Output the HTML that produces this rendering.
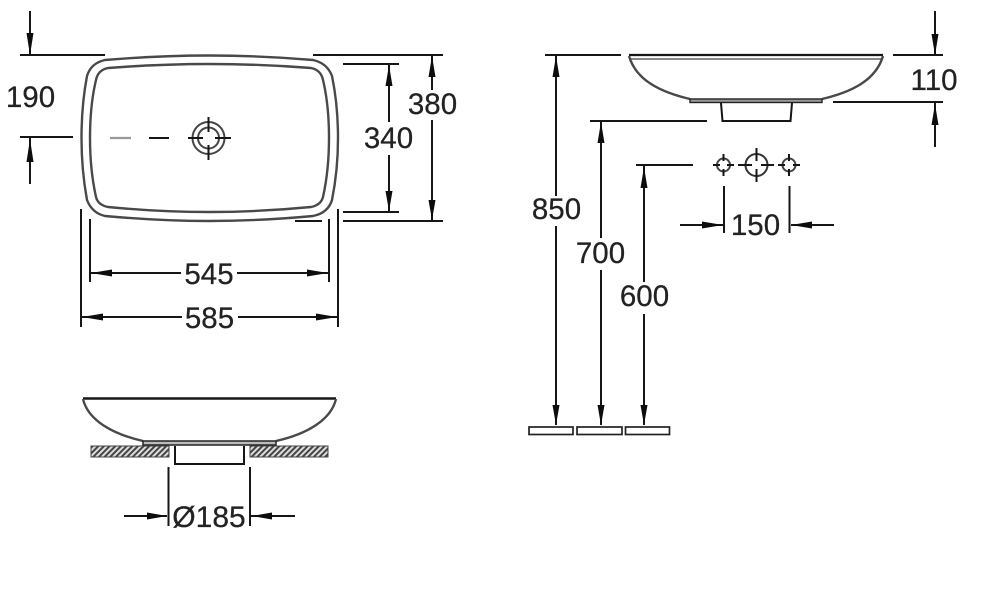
<!DOCTYPE html>
<html><head><meta charset="utf-8"><style>
html,body{margin:0;padding:0;background:#fff;width:1000px;height:596px;overflow:hidden}
svg{display:block}
text{font-family:"Liberation Sans",sans-serif;font-size:29.500px;fill:#222;stroke:#222;stroke-width:0.250px;text-anchor:middle}
.l{stroke:#141414;stroke-width:2;fill:none}
.b{stroke:#4a4a4a;stroke-width:2.400;fill:none}
.a{fill:#111;stroke:none}
</style></head><body>
<svg width="1000" height="596" viewBox="0 0 1000 596" xmlns="http://www.w3.org/2000/svg">
<defs>
<pattern id="h" width="4" height="4" patternUnits="userSpaceOnUse" patternTransform="rotate(45)"><rect width="4" height="4" fill="#ddd"/><rect width="2" height="4" fill="#444"/></pattern>
<filter id="f" x="0" y="0" width="100%" height="100%"><feGaussianBlur stdDeviation="0.350"/></filter>
</defs>
<g filter="url(#f)">
<!-- plan view -->
<path class="b" d="M105,60 Q160,55.500 209,55.500 Q260,55.500 313,60 Q327,63 332,76 Q338,105 338,138 Q338,170 332,200 Q328,213 313,216 Q260,221 209,221 Q160,221 105,216 Q92,213 87,200 Q81.500,170 81.500,138 Q81.500,105 87,76 Q91,63 105,60 Z"/>
<path class="b" d="M108,68 Q160,64 209,64 Q260,64 311,68 Q321,70 323,80 Q329,105 329,138 Q329,170 323,197 Q321,205 311,207 Q260,212 209,212 Q160,212 108,207 Q98,205 96,197 Q90,170 90,138 Q90,105 96,80 Q98,70 108,68 Z"/>
<path d="M110,138H131" stroke="#999" stroke-width="2.200"/>
<path class="l" d="M149,138H169"/>
<circle cx="208.500" cy="138" r="16" fill="none" stroke="#444" stroke-width="2"/>
<circle cx="208.500" cy="138" r="10.500" fill="none" stroke="#444" stroke-width="2"/>
<path class="l" d="M188,138H203M215,138H231M208.500,117V132M208.500,145V160"/>

<!-- 190 -->
<path class="l" d="M30,11V55M20,55H105M20,137H73M30,138V184"/>
<path class="a" d="M26.500,33H33.500L30,55ZM26.500,162H33.500L30,139Z"/>
<text x="30.500" y="107">190</text>

<!-- 340 / 380 -->
<path class="l" d="M313,55H443M343,64H399M343,212H399M295,221H322M343,221H443"/>
<path class="l" d="M389,65V122M389,155V212M432,56V90M432,120V221"/>
<path class="a" d="M389,65L392.500,86H385.500ZM389,211L392.500,191H385.500ZM432,56L435.500,77H428.500ZM432,220L435.500,200H428.500Z"/>
<text x="388.500" y="148">340</text>
<text x="432.500" y="114">380</text>

<!-- 545 / 585 -->
<path class="l" d="M81,209V327M90,219V282M329,219V282M338,209V327"/>
<path class="l" d="M90,273H181M237,273H329M81,317H182M238,317H338"/>
<path class="a" d="M91,273L112,269.500V276.500ZM328,273L307,269.500V276.500ZM82,317L103,313.500V320.500ZM337,317L316,313.500V320.500Z"/>
<text x="209" y="284">545</text>
<text x="209.500" y="328">585</text>

<!-- front view -->
<path d="M83,398.500H336" stroke="#141414" stroke-width="2.400"/>
<path class="b" d="M83,399C88,420 112,434 143,441M336,399C331,420 307,434 276,441" stroke-width="1.800"/>
<rect x="143" y="441" width="133" height="4" fill="#bbb" stroke="#222" stroke-width="1.500"/>
<rect x="91" y="446" width="78" height="11" fill="url(#h)" stroke="#444" stroke-width="1"/>
<rect x="250" y="446" width="78" height="11" fill="url(#h)" stroke="#444" stroke-width="1"/>
<path class="l" d="M175,446V464H244V446"/>
<path class="l" d="M168.500,467V526M250,467V526M124,516H167M251,516H295"/>
<path class="a" d="M167,516L147,512.500V519.500ZM252,516L272,512.500V519.500Z"/>
<text x="209" y="527" style="font-size:30px">Ø185</text>

<!-- side view -->
<path d="M629,55H883" stroke="#141414" stroke-width="2.200"/>
<path d="M631,59H881" stroke="#777" stroke-width="1.800"/>
<path class="b" d="M629,56C636,80 660,92 690,99M883,56C876,80 852,92 822,99" stroke-width="1.800"/>
<rect x="690" y="99" width="132" height="3.500" fill="#999" stroke="#222" stroke-width="1.400"/>
<path class="l" d="M721,103L722.500,121H790.500L792,103"/>

<!-- heights -->
<path class="l" d="M545,55H621M590,121H707M636,165H693"/>
<path class="l" d="M556,56V196M556,226V425M601,122V238M601,270V425M644,166V282M644,314V425"/>
<path class="a" d="M556,56L559.500,77H552.500ZM601,122L604.500,143H597.500ZM644,167L647.500,188H640.500ZM556,425L559.500,405H552.500ZM601,425L604.500,405H597.500ZM644,425L647.500,405H640.500Z"/>
<text x="556.500" y="219">850</text>
<text x="600.500" y="263">700</text>
<text x="644.500" y="306">600</text>
<rect x="529" y="427" width="44" height="7.500" fill="#fff" stroke="#222" stroke-width="1.700"/>
<rect x="577" y="427" width="45" height="7.500" fill="#fff" stroke="#222" stroke-width="1.700"/>
<rect x="625.500" y="427" width="44" height="7.500" fill="#fff" stroke="#222" stroke-width="1.700"/>

<!-- 110 -->
<path class="l" d="M893,55H943M833,102H943M935,11V55M935,103V147"/>
<path class="a" d="M931.500,34H938.500L935,55ZM935,104L938.500,125H931.500Z"/>
<text x="934" y="90">110</text>

<!-- taps -->
<circle cx="723.500" cy="165" r="6.500" fill="none" stroke="#444" stroke-width="2"/>
<circle cx="756.500" cy="165" r="11" fill="none" stroke="#333" stroke-width="2"/>
<circle cx="789" cy="165" r="6.500" fill="none" stroke="#444" stroke-width="2"/>
<path class="l" d="M713,165H720M727,165H734M723.500,154V161M723.500,169V176M738,165H752M761,165H774M756.500,148V161M756.500,169V182M778,165H785M793,165H800M789,154V161M789,169V176"/>

<!-- 150 -->
<path class="l" d="M724,186V233M789.500,186V233M680,225H723M791,225H834"/>
<path class="a" d="M723,225L702,221.500V228.500ZM791,225L812,221.500V228.500Z"/>
<text x="755.500" y="235">150</text>
</g>
</svg>
</body></html>
